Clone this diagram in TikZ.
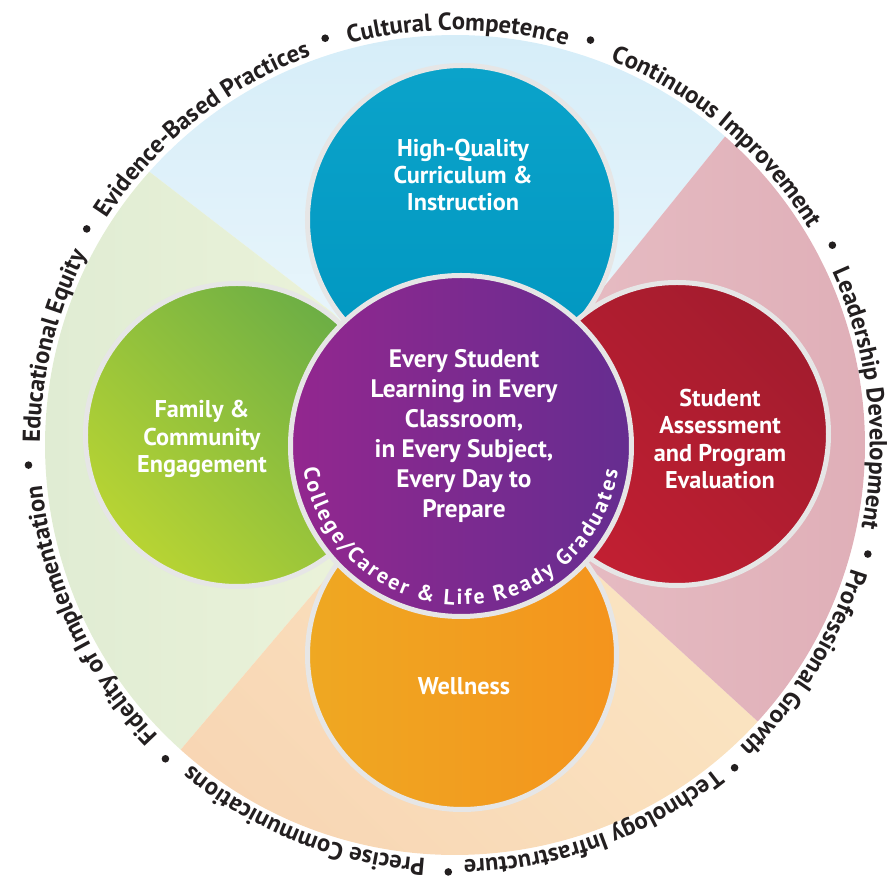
\documentclass[tikz,border=0pt]{standalone}
\usepackage{fontspec}
\setmainfont{PT Sans}
\usetikzlibrary{decorations.text}

\definecolor{inktext}{HTML}{231F20}
\definecolor{skyout}{HTML}{D3ECF8}
\definecolor{skyin}{HTML}{EFF8FC}
\definecolor{leafout}{HTML}{DEEBD2}
\definecolor{leafin}{HTML}{EFF5DC}
\definecolor{roseout}{HTML}{DFAEB7}
\definecolor{rosein}{HTML}{E8C0C6}
\definecolor{sandout}{HTML}{F8D6B4}
\definecolor{sandin}{HTML}{FBE6C3}
\definecolor{rimgray}{HTML}{E6E6E6}
\definecolor{bluetop}{HTML}{0BA3CA}
\definecolor{bluebot}{HTML}{0096C0}

\newcommand\ringfont{\bfseries\fontsize{14}{16}\selectfont}
\newcommand\gradfont{\bfseries\fontsize{12.4}{14}\selectfont}

\begin{document}
\begin{tikzpicture}[x=0.02cm,y=0.02cm,
  rim/.style={draw=rimgray,line width=0.1cm},
  petaltext/.style={text=white,align=center,font=\bfseries\fontsize{13.8}{15.6}\selectfont},
  coretext/.style={text=white,align=center,font=\bfseries\fontsize{14.4}{17}\selectfont}]

\useasboundingbox (-455,-446) rectangle (441,445);

% outer sectors
\shade[top color=skyout,bottom color=skyin]
  (6,0) -- (144,152) -- (48.8:410) arc[start angle=48.8,end angle=138.2,radius=410] -- (-122,132) -- cycle;
\shade[left color=leafout,right color=leafin]
  (6,0) -- (-122,132) -- (138.2:410) arc[start angle=138.2,end angle=228,radius=410] -- (-122,-125) -- cycle;
\shade[bottom color=sandout,top color=sandin,shading angle=-45]
  (6,0) -- (-122,-125) -- (228:410) arc[start angle=228,end angle=317.6,radius=410] -- (134,-122) -- cycle;
\shade[right color=roseout,left color=rosein]
  (6,0) -- (134,-122) -- (-42.4:410) arc[start angle=-42.4,end angle=48.8,radius=410] -- (144,152) -- cycle;

% petals
\shade[top color=bluetop,bottom color=bluebot,rim]
  (7,225) circle[radius=154.5];
\shade[top color={rgb,255:red,108;green,174;blue,69},bottom color={rgb,255:red,184;green,212;blue,51},shading angle=-45,rim]
  (-218,10) circle[radius=151.5];
\shade[top color={rgb,255:red,163;green,28;blue,46},bottom color={rgb,255:red,194;green,31;blue,50},shading angle=-45,rim]
  (222,11) circle[radius=151.5];
\shade[left color={rgb,255:red,239;green,168;blue,34},right color={rgb,255:red,244;green,148;blue,29},rim]
  (7,-210) circle[radius=154.5];

% core
\shade[left color={rgb,255:red,147;green,39;blue,143},right color={rgb,255:red,101;green,45;blue,144},rim]
  (6,-1) circle[radius=170.5];

\node[petaltext] (quality)  at (8,270)   {High-Quality\\Curriculum \&\\Instruction};
\node[petaltext] (family)   at (-253,6)  {Family \&\\Community\\Engagement};
\node[petaltext] (assess)   at (265,6)   {Student\\Assessment\\and Program\\Evaluation};
\node[petaltext] (wellness) at (9,-241)  {Wellness};
\node[coretext]  (every)    at (9,9)     {Every Student\\Learning in Every\\Classroom,\\in Every Subject,\\Every Day to\\Prepare};

\path[shift={(6,-1)},decorate,decoration={text along path,text align=fit to path,
  text={|\color{white}\gradfont|College/Career {\&} Life Ready Graduates}}]
  (188:159) arc[start angle=188,end angle=351,radius=159];

% ring of values
\foreach \sa/\ea/\phrase in {% start angle/end angle/phrase
  107.7/71.5/Cultural Competence,
  71.5/27.9/Continuous Improvement,
  27.9/-14.8/Leadership Development,
  -14.8/-49.1/Professional Growth,
  -49.1/-90.9/Technology Infrastructure,
  -90.9/-132.7/Precise Communications,
  -132.7/-177.3/Fidelity of Implementation,
  182.7/149.6/Educational Equity,
  149.6/107.7/Evidence-Based Practices}
  \path[decorate,decoration={text along path,text align=center,
    text/.expanded={|\noexpand\color{inktext}\noexpand\ringfont|\phrase}}]
    (\sa:415) arc[start angle=\sa,end angle=\ea,radius=415];

\foreach \a in {107.7,71.5,27.9,-14.8,-49.1,-90.9,-132.7,182.7,149.6}
  \fill[inktext] (\a:427) circle[radius=3.8];

\end{tikzpicture}
\end{document}
